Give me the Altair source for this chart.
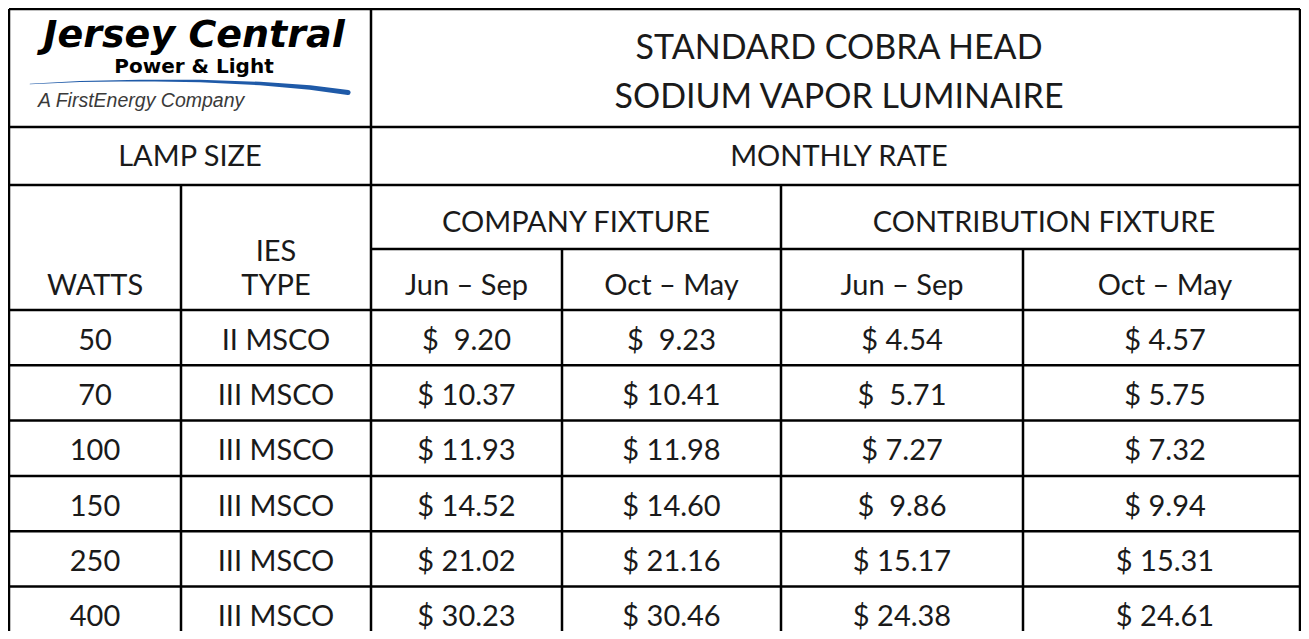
import altair as alt
import pandas as pd

# ---------------- data ----------------
title_lines = ["STANDARD COBRA HEAD", "SODIUM VAPOR LUMINAIRE"]
watts = ["50", "70", "100", "150", "250", "400"]
ies_type = ["II MSCO", "III MSCO", "III MSCO", "III MSCO", "III MSCO", "III MSCO"]
company_jun_sep = [9.20, 10.37, 11.93, 14.52, 21.02, 30.23]
company_oct_may = [9.23, 10.41, 11.98, 14.60, 21.16, 30.46]
contrib_jun_sep = [4.54, 5.71, 7.27, 9.86, 15.17, 24.38]
contrib_oct_may = [4.57, 5.75, 7.32, 9.94, 15.31, 24.61]
# cells typed with an extra space after the "$" in the original sheet
wide_gap = {(2, 0), (3, 0), (4, 1), (4, 3)}
season_labels = ["Jun \u2013 Sep", "Oct \u2013 May", "Jun \u2013 Sep", "Oct \u2013 May"]

# ---------------- layout (page pixels) ----------------
W, H = 1293, 623                      # plot spans page x 8..1301, y 8..631
right_vis, bottom_vis = 8 + W - 1, 8 + H
col = [9, 181, 371, 562, 781, 1023, 1307]
y_title_bot, y_lamp_bot, y_sub_bot, y_head_bot = 127, 185, 249, 310
row_h = 55.3
n_rows = len(watts)
row_edges = [y_head_bot + row_h * i for i in range(n_rows + 1)]
top = 9


def mid(a, b):
    return (a + b) / 2


def cx(v):
    return min(v, right_vis)


def cy(v):
    return min(v, bottom_vis)


# grid lines
rules = []
for yy in [top, y_title_bot, y_lamp_bot, y_head_bot] + row_edges[1:-1]:
    rules.append(dict(x=col[0], x2=cx(col[-1]), y=yy, y2=yy))
rules.append(dict(x=col[2], x2=cx(col[-1]), y=y_sub_bot, y2=y_sub_bot))
for xx in [col[0], col[2], col[-1]]:
    rules.append(dict(x=cx(xx), x2=cx(xx), y=top, y2=cy(row_edges[-1])))
for xx in [col[1], col[4]]:
    rules.append(dict(x=xx, x2=xx, y=y_lamp_bot, y2=cy(row_edges[-1])))
for xx in [col[3], col[5]]:
    rules.append(dict(x=xx, x2=xx, y=y_sub_bot, y2=cy(row_edges[-1])))
rules_df = pd.DataFrame(rules)

# texts
HEAD = 29
texts = []
cx_right = mid(col[2], col[-1])
texts.append(dict(x=cx_right, y=49, text=title_lines[0], size=34))
texts.append(dict(x=cx_right, y=98, text=title_lines[1], size=34))
texts.append(dict(x=mid(col[0], col[2]), y=mid(y_title_bot, y_lamp_bot) + 1, text="LAMP SIZE", size=HEAD))
texts.append(dict(x=cx_right, y=mid(y_title_bot, y_lamp_bot) + 1, text="MONTHLY RATE", size=HEAD))
texts.append(dict(x=mid(col[2], col[4]), y=mid(y_lamp_bot, y_sub_bot) + 6, text="COMPANY FIXTURE", size=HEAD))
texts.append(dict(x=mid(col[4], col[6]), y=mid(y_lamp_bot, y_sub_bot) + 6, text="CONTRIBUTION FIXTURE", size=HEAD))
y_sub_mid = mid(y_sub_bot, y_head_bot) + 6
texts.append(dict(x=mid(col[0], col[1]), y=y_sub_mid, text="WATTS", size=HEAD))
texts.append(dict(x=mid(col[1], col[2]), y=y_sub_mid, text="TYPE", size=HEAD))
texts.append(dict(x=mid(col[1], col[2]), y=y_sub_mid - 34, text="IES", size=HEAD))
for j, lab in enumerate(season_labels):
    texts.append(dict(x=mid(col[2 + j], col[3 + j]), y=y_sub_mid, text=lab, size=HEAD))

price_cols = [company_jun_sep, company_oct_may, contrib_jun_sep, contrib_oct_may]
for i in range(n_rows):
    yc = mid(row_edges[i], row_edges[i + 1]) + 3
    texts.append(dict(x=mid(col[0], col[1]), y=yc, text=watts[i], size=HEAD))
    texts.append(dict(x=mid(col[1], col[2]), y=yc, text=ies_type[i], size=HEAD))
    for j, series in enumerate(price_cols):
        gap = "\u00a0\u00a0" if (j + 2, i) in wide_gap else "\u00a0"
        texts.append(dict(x=mid(col[2 + j], col[3 + j]), y=yc,
                          text="$" + gap + f"{series[i]:.2f}", size=HEAD))
texts_df = pd.DataFrame(texts)

# logo
logo_main = pd.DataFrame([dict(x=194, y=47, text="Jersey Central")])
logo_sub = pd.DataFrame([dict(x=194, y=73, text="Power & Light")])
logo_tag = pd.DataFrame([dict(x=38, y=101, text="A FirstEnergy Company")])
swoosh = pd.DataFrame(dict(
    x=[30, 80, 140, 200, 260, 310, 348],
    y=[84, 81.5, 80.5, 81, 83.5, 87.5, 92.5],
    w=[0.6, 1.0, 1.6, 2.4, 3.4, 4.4, 5.2],
))

xs = alt.Scale(domain=[8, 8 + W], nice=False, zero=False)
ys = alt.Scale(domain=[8, 8 + H], nice=False, zero=False, reverse=True)


def X(f="x"):
    return alt.X(f + ":Q", scale=xs, axis=None)


def Y(f="y"):
    return alt.Y(f + ":Q", scale=ys, axis=None)


grid = alt.Chart(rules_df).mark_rule(color="#000000", strokeWidth=2.5).encode(
    x=X(), x2="x2:Q", y=Y(), y2="y2:Q")

cells = alt.Chart(texts_df).mark_text(font="Lato", color="#1a1a1a", baseline="middle",
                                      align="center").encode(
    x=X(), y=Y(), text="text:N", size=alt.Size("size:Q", scale=None))

lm = alt.Chart(logo_main).mark_text(font="DejaVu Sans", fontWeight="bold", fontStyle="italic",
                                    fontSize=38, color="#000000", align="center",
                                    baseline="alphabetic").encode(x=X(), y=Y(), text="text:N")
ls = alt.Chart(logo_sub).mark_text(font="DejaVu Sans", fontWeight="bold", fontSize=20,
                                   color="#000000", align="center",
                                   baseline="alphabetic").encode(x=X(), y=Y(), text="text:N")
lt = alt.Chart(logo_tag).mark_text(font="Liberation Sans", fontStyle="italic", fontSize=19.5,
                                   color="#3a3a3a", align="left",
                                   baseline="middle").encode(x=X(), y=Y(), text="text:N")
sw = alt.Chart(swoosh).mark_trail(color="#1f5aa8").encode(
    x=X(), y=Y(), size=alt.Size("w:Q", scale=None), order="x:Q")

chart = alt.layer(grid, sw, lm, ls, lt, cells).properties(
    width=W, height=H, padding=0, autosize=alt.AutoSizeParams(type="none"),
    background="white",
).configure_view(stroke=None)

chart.save("out.html", embed_options={"renderer": "svg", "actions": False})
